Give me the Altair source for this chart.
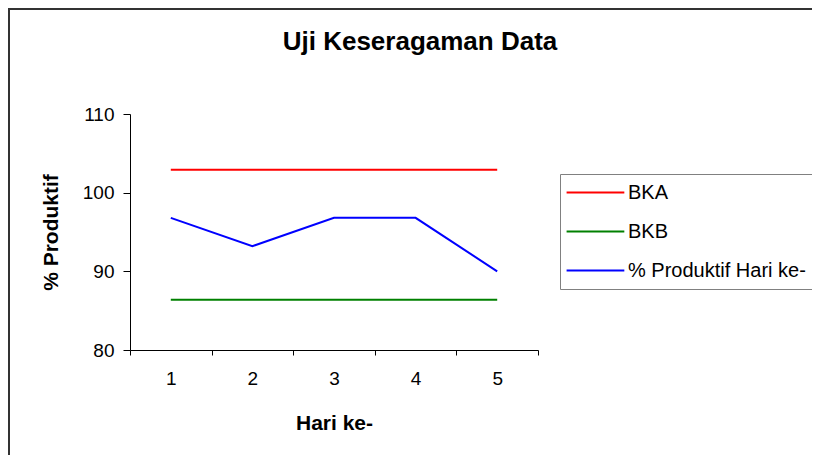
import altair as alt
import pandas as pd

hari = [1, 2, 3, 4, 5]
bka = [102.9, 102.9, 102.9, 102.9, 102.9]
bkb = [86.4, 86.4, 86.4, 86.4, 86.4]
produktif = [96.8, 93.2, 96.8, 96.8, 90.0]
series_names = ["BKA", "BKB", "% Produktif Hari ke-"]
series_colors = ["#FF0000", "#008000", "#0000FF"]
y_ticks = [80, 90, 100, 110]
chart_title = "Uji Keseragaman Data"

rows = []
for name, vals in zip(series_names, [bka, bkb, produktif]):
    for h, v in zip(hari, vals):
        rows.append({"Hari": h, "Nilai": v, "Seri": name})
df = pd.DataFrame(rows)

FONT = "Liberation Sans"

lines = alt.Chart(df).mark_line(strokeWidth=2).encode(
    x=alt.X(
        "Hari:O",
        bandPosition=0.5,
        scale=alt.Scale(type="band", paddingInner=0, paddingOuter=0),
        axis=alt.Axis(
            title="Hari ke-", labelAngle=0, tickBand="extent",
            tickSize=5, labelPadding=14, titlePadding=24,
        ),
    ),
    y=alt.Y(
        "Nilai:Q",
        scale=alt.Scale(domain=[80, 110], nice=False, zero=False),
        axis=alt.Axis(values=y_ticks, title="% Produktif", grid=False,
                      tickSize=7, labelPadding=9, titlePadding=21),
    ),
    color=alt.Color(
        "Seri:N",
        sort=series_names,
        scale=alt.Scale(domain=series_names, range=series_colors),
        legend=alt.Legend(
            title=None, orient="none", legendX=430, legendY=60,
            symbolType="M-1.3,0H5", symbolSize=336, symbolStrokeWidth=2,
            labelFontSize=20, labelOffset=39, labelLimit=400, padding=8,
            rowPadding=18,
            strokeColor="#808080", fillColor="white",
        ),
    ),
)

frame_top = alt.Chart(pd.DataFrame({"k": [0]})).mark_rule(
    stroke="#333333", strokeWidth=2
).encode(x=alt.value(-121), x2=alt.value(700), y=alt.value(-105))

frame_left = alt.Chart(pd.DataFrame({"k": [0]})).mark_rule(
    stroke="#333333", strokeWidth=2
).encode(x=alt.value(-121), y=alt.value(-106), y2=alt.value(400))

title_text = alt.Chart(pd.DataFrame({"t": [chart_title]})).mark_text(
    font=FONT, fontSize=26, fontWeight="bold", color="black",
    align="center", baseline="alphabetic",
).encode(text="t:N", x=alt.value(290), y=alt.value(-64))

chart = alt.layer(frame_top, frame_left, title_text, lines).properties(
    width=408,
    height=236,
    autosize=alt.AutoSizeParams(type="none"),
    padding={"left": 122, "top": 106, "right": 274, "bottom": 105},
).configure_view(stroke=None).configure_axis(
    labelFont=FONT, titleFont=FONT, labelFontSize=19, titleFontSize=21,
    titleFontWeight="bold", labelColor="black", titleColor="black",
    domainColor="black", tickColor="black", domainWidth=1, tickWidth=1,
).configure_legend(labelFont=FONT, labelColor="black")

chart.save("out.html", embed_options={"renderer": "svg", "actions": False})
